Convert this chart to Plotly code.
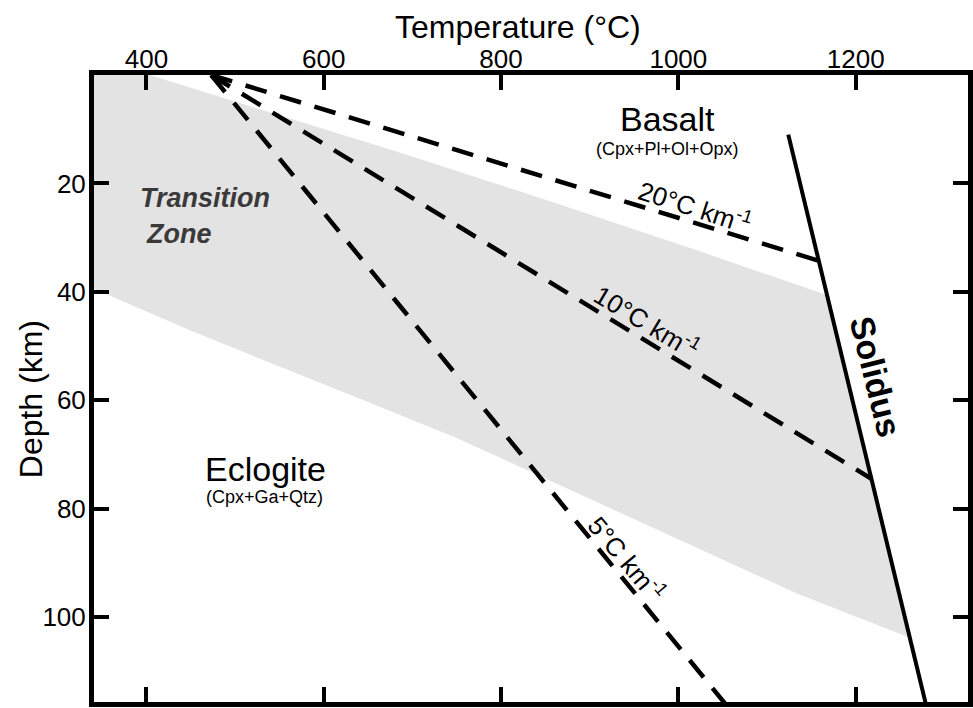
import numpy as np
import plotly.graph_objects as go

# Axis ticks
temp_ticks = [400, 600, 800, 1000, 1200]
depth_ticks = [20, 40, 60, 80, 100]

# Geotherms radiating from the surface temperature (°C/km)
surface_temp = 473
geotherm_gradients = [20, 10, 5]
geotherm_labels = ["20°C km<sup>-1</sup>", "10°C km<sup>-1</sup>", "5°C km<sup>-1</sup>"]
geotherm_label_temp = [1019, 965, 942]
geotherm_label_depth = [24.2, 45.4, 89.2]
geotherm_label_angle = [18, 31, 50]

# Basalt solidus
solidus_depth = [11, 120]
solidus_temp = [1124, 1285]

# Transition zone (upper and lower boundaries)
band_top_temp = [300, 404, 549, 684, 852, 1020, 1166]
band_top_depth = [-2, 0, 7.4, 14.2, 23.1, 32.3, 40.5]
band_bottom_temp = [300, 339, 449, 636, 748, 908, 1133, 1260]
band_bottom_depth = [36.5, 39.3, 47.1, 59.4, 66.8, 78.8, 95.6, 103.7]

FONT = "Liberation Sans, Arial, Helvetica, sans-serif"

fig = go.Figure()

# grey transition band
poly_t = band_top_temp + band_bottom_temp[::-1]
poly_z = band_top_depth + band_bottom_depth[::-1]
fig.add_trace(go.Scatter(
    x=poly_t, y=poly_z, mode="lines", fill="toself",
    fillcolor="#e3e3e3", line=dict(width=0), hoverinfo="skip", showlegend=False,
))

# solidus
fig.add_trace(go.Scatter(
    x=solidus_temp, y=solidus_depth, mode="lines",
    line=dict(color="black", width=4), hoverinfo="skip", showlegend=False,
))

# geotherms end where they meet the solidus
s_slope = (solidus_temp[1] - solidus_temp[0]) / (solidus_depth[1] - solidus_depth[0])
s_t0 = solidus_temp[0] - s_slope * solidus_depth[0]
for g in geotherm_gradients:
    z_end = (s_t0 - surface_temp) / (g - s_slope)
    z = np.array([0.0, z_end])
    fig.add_trace(go.Scatter(
        x=surface_temp + g * z, y=z, mode="lines",
        line=dict(color="black", width=4.5, dash="22px,14px"),
        hoverinfo="skip", showlegend=False,
    ))

ann = []
for lab, t, z, a in zip(geotherm_labels, geotherm_label_temp, geotherm_label_depth, geotherm_label_angle):
    ann.append(dict(x=t, y=z, text=lab, showarrow=False, textangle=a,
                    font=dict(family=FONT, size=26, color="black")))

ann += [
    dict(x=988, y=8.1, text="Basalt", showarrow=False, font=dict(family=FONT, size=34, color="black")),
    dict(x=988, y=13.6, text="(Cpx+Pl+Ol+Opx)", showarrow=False, font=dict(family=FONT, size=18, color="black")),
    dict(x=534, y=72.7, text="Eclogite", showarrow=False, font=dict(family=FONT, size=34, color="black")),
    dict(x=533, y=77.9, text="(Cpx+Ga+Qtz)", showarrow=False, font=dict(family=FONT, size=18, color="black")),
    dict(x=466, y=22.7, text="<b><i>Transition</i></b>", showarrow=False,
         font=dict(family=FONT, size=27, color="#3a3a3a")),
    dict(x=437, y=29.3, text="<b><i>Zone</i></b>", showarrow=False,
         font=dict(family=FONT, size=27, color="#3a3a3a")),
    dict(x=1222, y=55.6, text="<b>Solidus</b>", showarrow=False, textangle=76,
         font=dict(family=FONT, size=34, color="black")),
    # axis titles
    dict(x=0.485, y=1.077, xref="paper", yref="paper", xanchor="center", yanchor="middle",
         text="Temperature (°C)", showarrow=False,
         font=dict(family=FONT, size=32, color="black")),
    dict(x=-0.072, y=0.483, xref="paper", yref="paper", xanchor="center", yanchor="middle",
         text="Depth (km)", showarrow=False,
         textangle=-90, font=dict(family=FONT, size=32, color="black")),
]

axis_common = dict(
    showline=True, linewidth=5, linecolor="black", mirror="ticks",
    ticks="inside", ticklen=15, tickwidth=4, tickcolor="black",
    showgrid=False, zeroline=False,
    tickfont=dict(family=FONT, size=26, color="black"),
)

fig.update_layout(
    width=973, height=708,
    margin=dict(l=94, r=0, t=75, b=6),
    paper_bgcolor="white", plot_bgcolor="white",
    xaxis=dict(side="top", range=[340.9, 1326.7], tickvals=temp_ticks,
               ticklabelstandoff=-8, **axis_common),
    yaxis=dict(range=[115.65, 0], tickvals=depth_ticks, ticklabelstandoff=-2, **axis_common),
    annotations=ann,
    showlegend=False,
)

fig.write_html("out.html")
